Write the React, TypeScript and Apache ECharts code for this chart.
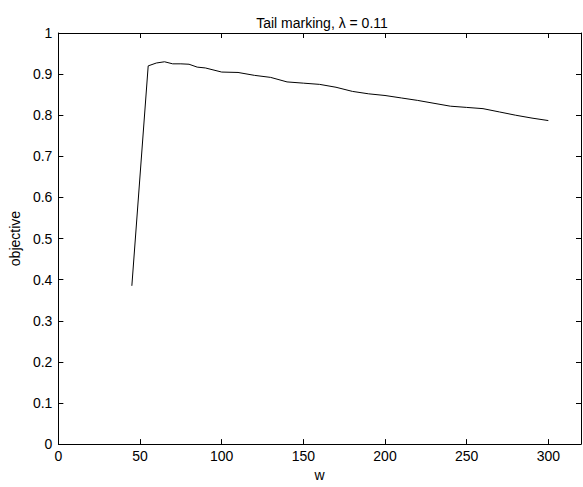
import React, { useEffect, useRef } from "react";
import * as echarts from "echarts";

const wValues = [45, 55, 60, 65, 70, 75, 80, 85, 90, 100, 110, 120, 130, 140, 150, 160, 170, 180, 190, 200, 210, 220, 230, 240, 250, 260, 270, 280, 290, 300];
const objectiveValues = [0.385, 0.92, 0.927, 0.93, 0.925, 0.925, 0.924, 0.917, 0.915, 0.905, 0.904, 0.897, 0.892, 0.881, 0.878, 0.875, 0.868, 0.858, 0.852, 0.848, 0.842, 0.836, 0.829, 0.822, 0.819, 0.816, 0.808, 0.8, 0.793, 0.787];
const titleText = "Tail marking, λ = 0.11";
const xName = "w";
const yName = "objective";

const FONT = "Liberation Sans, Arial, Helvetica, sans-serif";
const FS = 14;

export default function App() {
  const ref = useRef<HTMLDivElement>(null);
  useEffect(() => {
    if (!ref.current) return;
    const chart = echarts.init(ref.current, undefined, { renderer: "svg" });
    const axisLine = { show: true, onZero: false, lineStyle: { color: "#000", width: 1 } };
    const tick = { show: true, inside: true, length: 5, lineStyle: { color: "#000" } };
    chart.setOption({
      animation: false,
      backgroundColor: "#fff",
      title: {
        text: titleText,
        left: 317,
        textAlign: "center",
        top: 11,
        textStyle: { fontFamily: FONT, fontSize: FS, fontWeight: "normal", color: "#000" },
      },
      grid: { left: 53, right: 2, top: 33, bottom: 36, containLabel: false },
      xAxis: [
        {
          type: "value",
          min: 0,
          max: 320,
          interval: 50,
          position: "bottom",
          name: xName,
          nameLocation: "middle",
          nameGap: 21,
          nameTextStyle: { fontFamily: FONT, fontSize: FS, color: "#000" },
          axisLine,
          axisTick: tick,
          axisLabel: { showMaxLabel: false, fontFamily: FONT, fontSize: FS, color: "#000", margin: 5 },
          splitLine: { show: false },
        },
        {
          type: "value",
          min: 0,
          max: 320,
          interval: 50,
          position: "top",
          axisLine,
          axisTick: tick,
          axisLabel: { show: false },
          splitLine: { show: false },
        },
      ],
      yAxis: [
        {
          type: "value",
          min: 0,
          max: 1,
          interval: 0.1,
          position: "left",
          name: yName,
          nameLocation: "middle",
          nameGap: 27,
          nameTextStyle: { fontFamily: FONT, fontSize: FS, color: "#000" },
          axisLine,
          axisTick: tick,
          axisLabel: {
            fontFamily: FONT,
            fontSize: FS,
            color: "#000",
            margin: 6,
            formatter: (v: number) => (v === 0 ? "0" : v === 1 ? "1" : v.toFixed(1)),
          },
          splitLine: { show: false },
        },
        {
          type: "value",
          min: 0,
          max: 1,
          interval: 0.1,
          position: "right",
          axisLine,
          axisTick: tick,
          axisLabel: { show: false },
          splitLine: { show: false },
        },
      ],
      series: [
        {
          type: "line",
          data: wValues.map((w, i) => [w, objectiveValues[i]]),
          showSymbol: false,
          symbol: "none",
          lineStyle: { color: "#000", width: 1 },
          xAxisIndex: 0,
          yAxisIndex: 0,
        },
      ],
    });
    return () => chart.dispose();
  }, []);
  return <div ref={ref} style={{ width: 583, height: 487, position: "absolute", left: 0, top: 0 }} />;
}
